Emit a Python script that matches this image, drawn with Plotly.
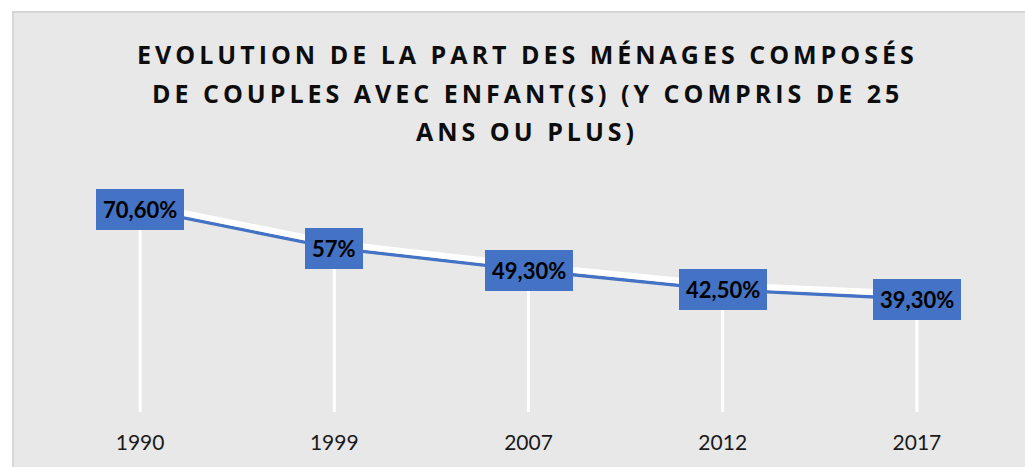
import plotly.graph_objects as go

# ---- data ----
categories = ["1990", "1999", "2007", "2012", "2017"]
values = [70.6, 57.0, 49.3, 42.5, 39.3]
value_labels = ["70,60%", "57%", "49,30%", "42,50%", "39,30%"]
title_lines = [
    "EVOLUTION DE LA PART DES MÉNAGES COMPOSÉS",
    "DE COUPLES AVEC ENFANT(S) (Y COMPRIS DE 25",
    "ANS OU PLUS)",
]

BLUE = "#4472C4"
BG = "#e8e8e8"
Y_MAX = 80
SHADOW_SHIFT = 1.7  # vertical offset of white shadow line (axis units)

fig = go.Figure()

# drop lines (white) from each point down to the axis
fig.add_trace(go.Scatter(
    x=categories, y=values, mode="markers",
    marker=dict(size=1, opacity=0),
    error_y=dict(type="data", symmetric=False, array=[0] * len(values),
                 arrayminus=values, color="white", thickness=3, width=0),
    hoverinfo="skip", showlegend=False,
))

# white shadow of the line
fig.add_trace(go.Scatter(
    x=categories, y=values, mode="lines", yaxis="y2",
    line=dict(color="white", width=6),
    hoverinfo="skip", showlegend=False,
))

# main blue line
fig.add_trace(go.Scatter(
    x=categories, y=values, mode="lines",
    line=dict(color=BLUE, width=3.3),
    showlegend=False,
))

annotations = []
# title lines
title_y = [1.557, 1.387, 1.222]
for line, yy in zip(title_lines, title_y):
    annotations.append(dict(
        text=line, xref="paper", yref="paper", x=0.4985, y=yy,
        xanchor="center", yanchor="middle", showarrow=False,
        font=dict(family="Open Sans", size=25, color="#0d0d0d", weight="bold"),
    ))
# data labels (x given as category index on the category axis)
for i, (v, lab) in enumerate(zip(values, value_labels)):
    annotations.append(dict(
        text=lab, x=i, y=v, xref="x", yref="y", showarrow=False,
        xanchor="center", yanchor="middle",
        bgcolor=BLUE, borderpad=6, borderwidth=1, bordercolor=BLUE,
        font=dict(family="Lato", size=22, color="black", weight="bold"),
    ))

fig.update_layout(
    width=1025, height=467,
    margin=dict(l=43, r=11, t=182, b=55),
    paper_bgcolor="white",
    plot_bgcolor="rgba(0,0,0,0)",
    showlegend=False,
    annotations=annotations,
    shapes=[dict(
        type="rect", xref="paper", yref="paper", layer="below",
        x0=-0.0309, x1=1.02, y0=-0.3, y1=1.739,
        fillcolor=BG, line=dict(color="#d6d6d6", width=2),
    )],
    xaxis=dict(
        type="category", range=[-0.5, 4.5],
        showgrid=False, zeroline=False, showline=False,
        ticks="outside", ticklen=12, tickcolor="rgba(0,0,0,0)",
        tickfont=dict(family="Lato", size=21, color="#1a1a1a"),
        fixedrange=True,
    ),
    yaxis=dict(range=[0, Y_MAX], visible=False, fixedrange=True),
    yaxis2=dict(range=[-SHADOW_SHIFT, Y_MAX - SHADOW_SHIFT], overlaying="y",
                visible=False, fixedrange=True),
)

post_script = """
document.body.style.margin = '0';
document.body.style.padding = '0';
var gd = document.getElementById('{plot_id}');
['0','1','2'].forEach(function(i){
  var t = gd.querySelector('g.annotation[data-index="' + i + '"] text.annotation-text');
  if (t) { t.style.letterSpacing = '4px'; }
});
"""

fig.write_html("out.html", post_script=post_script, config={"displayModeBar": False})
